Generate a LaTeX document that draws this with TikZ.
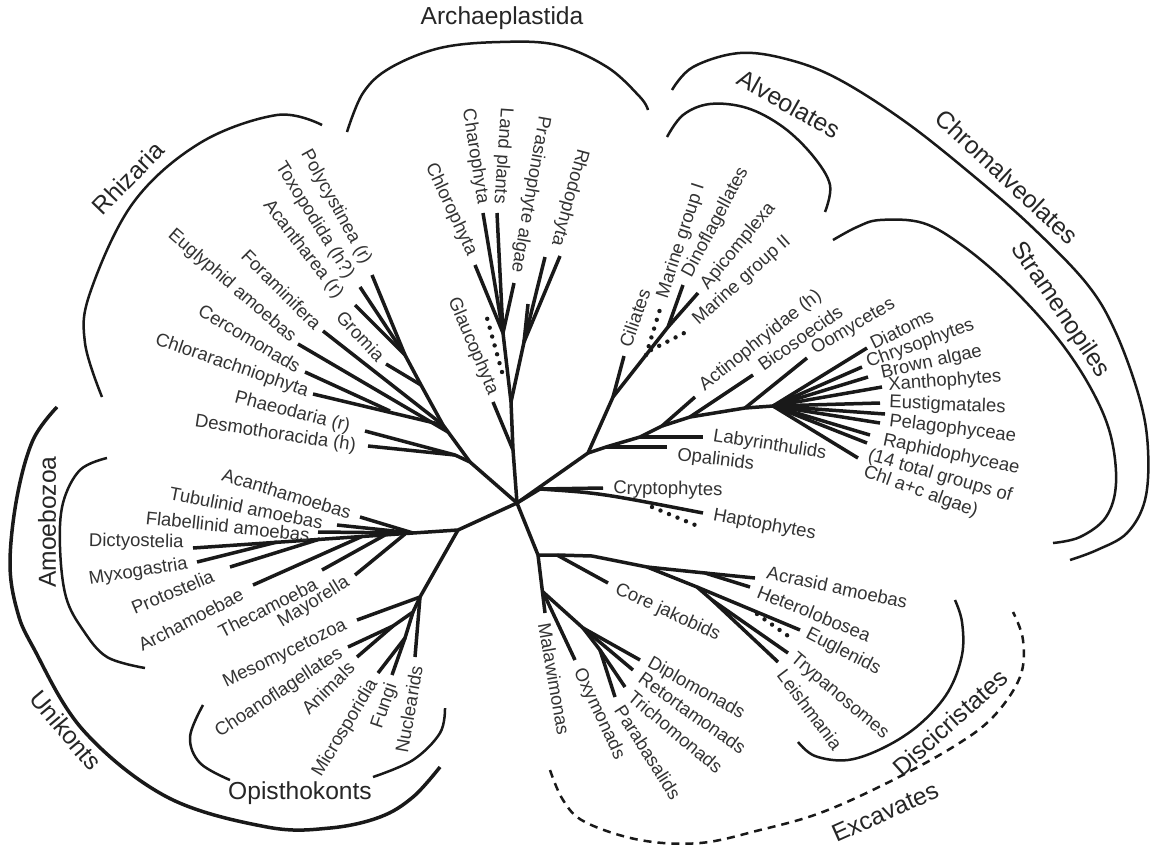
\documentclass[tikz,border=0pt]{standalone}
\usepackage{fontspec}
\setmainfont{Liberation Sans}
\begin{document}
\begin{tikzpicture}[x=0.5pt,y=-0.5pt,
  br/.style={line width=1.75pt, draw=black!90, line join=round},
  dotb/.style={line width=2.2pt, draw=black!90, dash pattern=on 0pt off 4.6pt, line cap=round},
  grp/.style={line width=1.25pt, draw=black!90},
  lab/.style={font=\fontsize{9.25}{11}\selectfont, text=black!80, inner sep=1pt},
  glab/.style={font=\fontsize{12.3}{14}\selectfont, text=black!85, inner sep=1pt}]
\useasboundingbox (0,0) rectangle (1154,851);
\fill[white] (0,0) rectangle (1154,851);

% ---------- centre
\coordinate (c) at (517,503);

% ---------- Archaeplastida
\coordinate (a1) at (513,450);
\coordinate (a2) at (511,402);
\coordinate (a3) at (503,333);
\coordinate (r1) at (524,342);
\coordinate (glauT) at (493,402);
\coordinate (chloT) at (475,265);
\coordinate (charT) at (483,213);
\coordinate (landT) at (497,213);
\coordinate (prasT) at (514,283);
\coordinate (rhoA) at (545,257);
\coordinate (rhoB) at (560,256);
\coordinate (rhoC) at (528,304);
\coordinate (gdA) at (502,372);
\coordinate (gdB) at (487,318);
\draw[br] (c) -- (a1) -- (a2) -- (a3);
\draw[br] (a1) -- (glauT);
\draw[br] (a3) -- (chloT);
\draw[br] (a3) -- (charT);
\draw[br] (a3) -- (landT);
\draw[br] (a3) -- (prasT);
\draw[br] (a2) -- (r1) -- (rhoA);
\draw[br] (r1) -- (rhoB);
\draw[br] (r1) -- (rhoC);
\draw[dotb] (gdA) -- (gdB);
\node[lab, anchor=east, rotate=-67] (lGlau) at (494,396) {Glaucophyta};
\node[lab, anchor=east, rotate=-65] (lChlo) at (473,257) {Chlorophyta};
\node[lab, anchor=east, rotate=-81] (lChar) at (483,206) {Charophyta};
\node[lab, anchor=east, rotate=-94] (lLand) at (499,206) {Land plants};
\node[lab, anchor=east, rotate=-100] (lPras) at (516,275) {Prasinophyte algae};
\node[lab, anchor=east, rotate=-105] (lRhod) at (556,248) {Rhodophyta};

% ---------- Rhizaria
\coordinate (rz0) at (470,462);
\coordinate (dsm) at (455,455);
\coordinate (rz1) at (443,425);
\coordinate (ej) at (448,432);
\coordinate (cc) at (390,411);
\coordinate (grj) at (421,385);
\coordinate (rz3) at (405,355);
\coordinate (polyT) at (372,275);
\coordinate (toxoT) at (360,287);
\coordinate (acanT) at (355,305);
\coordinate (gromT) at (386,364);
\coordinate (foraT) at (323,331);
\coordinate (eglyT) at (298,344);
\coordinate (cercT) at (305,372);
\coordinate (chlaT) at (313,394);
\coordinate (phaeT) at (365,431);
\coordinate (desmT) at (368,446);
\draw[br] (c) -- (rz0) -- (rz1) -- (grj) -- (rz3);
\draw[br] (rz0) -- (dsm) -- (phaeT);
\draw[br] (dsm) -- (desmT);
\draw[br] (rz1) -- (chlaT);
\draw[br] (cc) -- (cercT);
\draw[br] (rz1) -- (foraT);
\draw[br] (ej) -- (eglyT);
\draw[br] (grj) -- (gromT);
\draw[br] (rz3) -- (polyT);
\draw[br] (rz3) -- (toxoT);
\draw[br] (rz3) -- (acanT);
\node[lab, anchor=east, rotate=-61] (lPoly) at (368,265) {Polycystinea (r)};
\node[lab, anchor=east, rotate=-58] (lToxo) at (351,279) {Toxopodida (h?)};
\node[lab, anchor=east, rotate=-52] (lAcan) at (341,298) {Acantharea (r)};
\node[lab, anchor=east, rotate=-47] (lGrom) at (383,360) {Gromia};
\node[lab, anchor=east, rotate=-45] (lFora) at (320,328) {Foraminifera};
\node[lab, anchor=east, rotate=-41] (lEgly) at (295,341) {Euglyphid amoebas};
\node[lab, anchor=east, rotate=-31] (lCerc) at (301,369) {Cercomonads};
\node[lab, anchor=east, rotate=-19] (lChla) at (310,393) {Chlorarachniophyta};
\node[lab, anchor=east, rotate=-14.5] (lPhae) at (352,428) {Phaeodaria (r)};
\node[lab, anchor=east, rotate=-8.7] (lDesm) at (358,447) {Desmothoracida (h)};

% ---------- Alveolates
\coordinate (ch0) at (588,453);
\coordinate (al1) at (613,397);
\coordinate (al3) at (668,327);
\coordinate (ciliT) at (624,356);
\coordinate (dinoT) at (683,285);
\coordinate (apiT) at (698,293);
\coordinate (m1A) at (646,355);
\coordinate (m1B) at (661,306);
\coordinate (m2A) at (651,350);
\coordinate (m2B) at (690,330);
\draw[br] (c) -- (ch0) -- (al1) -- (al3) -- (dinoT);
\draw[br] (al3) -- (apiT);
\draw[br] (al1) -- (ciliT);
\draw[dotb] (m1A) -- (m1B);
\draw[dotb] (m2A) -- (m2B);
\node[lab, anchor=west, rotate=71] (lCili) at (624,349) {Ciliates};
\node[lab, anchor=west, rotate=72] (lMg1) at (662,300) {Marine group I};
\node[lab, anchor=west, rotate=62] (lDino) at (686,278) {Dinoflagellates};
\node[lab, anchor=west, rotate=50.5] (lApic) at (703,289) {Apicomplexa};
\node[lab, anchor=west, rotate=42] (lMg2) at (694,324) {Marine group II};

% ---------- Stramenopiles
\coordinate (s0) at (606,447);
\coordinate (s1) at (640,437);
\coordinate (s2) at (662,426);
\coordinate (s3) at (690,417);
\coordinate (s4) at (745,408);
\coordinate (f0) at (773,406);
\coordinate (opalT) at (667,447);
\coordinate (labyT) at (703,437);
\coordinate (actiT) at (695,397);
\coordinate (bicoT) at (753,375);
\coordinate (oomyT) at (807,358);
\coordinate (fa) at (867,348);
\coordinate (fb) at (862,367);
\coordinate (fc) at (868,377);
\coordinate (fd) at (882,387);
\coordinate (fe) at (880,403);
\coordinate (ff) at (885,414);
\coordinate (fg) at (880,423);
\coordinate (fh) at (870,435);
\coordinate (fi) at (867,443);
\coordinate (fj) at (858,458);
\draw[br] (ch0) -- (s0) -- (s1) -- (s2) -- (s3) -- (s4) -- (f0);
\draw[br] (s0) -- (opalT);
\draw[br] (s1) -- (labyT);
\draw[br] (s2) -- (actiT);
\draw[br] (s3) -- (bicoT);
\draw[br] (s4) -- (oomyT);
\draw[br] (f0) -- (fa);
\draw[br] (f0) -- (fb);
\draw[br] (f0) -- (fc);
\draw[br] (f0) -- (fd);
\draw[br] (f0) -- (fe);
\draw[br] (f0) -- (ff);
\draw[br] (f0) -- (fg);
\draw[br] (f0) -- (fh);
\draw[br] (f0) -- (fi);
\draw[br] (f0) -- (fj);
\node[lab, anchor=west, rotate=-7] (lOpal) at (675,455) {Opalinids};
\node[lab, anchor=west, rotate=-9] (lLaby) at (711,436) {Labyrinthulids};
\node[lab, anchor=west, rotate=38.5] (lActi) at (700,389) {Actinophryidae (h)};
\node[lab, anchor=west, rotate=35.5] (lBico) at (758,368) {Bicosoecids};
\node[lab, anchor=west, rotate=30.5] (lOomy) at (811,352) {Oomycetes};
\node[lab, anchor=west, rotate=26] (lDiat) at (869,345) {Diatoms};
\node[lab, anchor=west, rotate=20] (lChry) at (865,364) {Chrysophytes};
\node[lab, anchor=west, rotate=12.5] (lBrow) at (879,374) {Brown algae};
\node[lab, anchor=west, rotate=4.4] (lXant) at (886,386) {Xanthophytes};
\node[lab, anchor=west, rotate=-2.4] (lEust) at (887,403) {Eustigmatales};
\node[lab, anchor=west, rotate=-7] (lPela) at (887,421) {Pelagophyceae};
\node[lab, anchor=west, rotate=-12] (lRaph) at (881,440) {Raphidophyceae};
\node[lab, anchor=west, rotate=-16] (lTot1) at (866,455) {(14 total groups of};
\node[lab, anchor=west, rotate=-19.7] (lTot2) at (862,471) {Chl a+c algae)};

% ---------- Cryptophytes / Haptophytes
\coordinate (hc) at (540,489);
\coordinate (cryT) at (603,488);
\coordinate (hapT) at (703,513);
\coordinate (hdA) at (652,507);
\coordinate (hdB) at (700,527);
\draw[br] (c) -- (hc) -- (cryT);
\draw[br] (hc) .. controls (600,493) .. (hapT);
\draw[dotb] (hdA) -- (hdB);
\node[lab, anchor=west, rotate=-1] (lCryp) at (611,489) {Cryptophytes};
\node[lab, anchor=west, rotate=-10.5] (lHapt) at (711,515) {Haptophytes};

% ---------- Excavates
\coordinate (ex1) at (538,555);
\coordinate (malT) at (545,613);
\coordinate (jk0) at (557,555);
\coordinate (dcm) at (592,556);
\coordinate (dc1) at (647,567);
\coordinate (het0) at (705,573);
\coordinate (acrT) at (755,578);
\coordinate (hetT) at (750,587);
\coordinate (jakT) at (608,583);
\coordinate (eg0) at (697,587);
\coordinate (eg1) at (712,600);
\coordinate (eugT) at (800,630);
\coordinate (tryT) at (788,653);
\coordinate (leiT) at (778,662);
\coordinate (edA) at (757,614);
\coordinate (edB) at (791,638);
\coordinate (mt0) at (543,592);
\coordinate (mt1) at (583,628);
\coordinate (mt2) at (600,650);
\coordinate (oxyT) at (575,660);
\coordinate (dipT) at (640,660);
\coordinate (retT) at (633,670);
\coordinate (triT) at (625,687);
\coordinate (parT) at (615,697);
\draw[br] (c) -- (ex1) -- (malT);
\draw[br] (ex1) -- (jk0) -- (dcm) -- (dc1) -- (het0) -- (acrT);
\draw[br] (het0) -- (hetT);
\draw[br] (jk0) -- (jakT);
\draw[br] (dc1) -- (eg0) -- (eugT);
\draw[br] (eg0) -- (eg1) -- (tryT);
\draw[br] (eg1) -- (leiT);
\draw[dotb] (edA) -- (edB);
\draw[br] (mt0) -- (oxyT);
\draw[br] (mt0) -- (mt1) -- (dipT);
\draw[br] (mt1) -- (retT);
\draw[br] (mt1) -- (mt2) -- (triT);
\draw[br] (mt2) -- (parT);
\node[lab, anchor=west, rotate=-12] (lAcra) at (765,572) {Acrasid amoebas};
\node[lab, anchor=west, rotate=-22] (lHete) at (756,590) {Heterolobosea};
\node[lab, anchor=west, rotate=-27.5] (lEugl) at (805,632) {Euglenids};
\node[lab, anchor=west, rotate=-40] (lTryp) at (791,656) {Trypanosomes};
\node[lab, anchor=west, rotate=-53] (lLeis) at (780,670) {Leishmania};
\node[lab, anchor=west, rotate=-24.6] (lJako) at (614,588) {Core jakobids};
\node[lab, anchor=west, rotate=-29.5] (lDipl) at (647,661) {Diplomonads};
\node[lab, anchor=west, rotate=-35.5] (lReto) at (639,675) {Retortamonads};
\node[lab, anchor=west, rotate=-40] (lTric) at (629,693) {Trichomonads};
\node[lab, anchor=west, rotate=-57.6] (lPara) at (618,705) {Parabasalids};
\node[lab, anchor=west, rotate=-65] (lOxym) at (577,667) {Oxymonads};
\node[lab, anchor=west, rotate=-80] (lMala) at (544,621) {Malawimonas};

% ---------- Amoebozoa
\coordinate (uk0) at (458,530);
\coordinate (am0) at (413,533);
\coordinate (acaT) at (360,517);
\coordinate (tubT) at (337,525);
\coordinate (flaT) at (318,532);
\coordinate (dicT) at (193,548);
\coordinate (j1) at (277,542);
\coordinate (j2) at (320,539);
\coordinate (j3) at (363,536);
\coordinate (j4) at (385,535);
\coordinate (j5) at (405,534);
\coordinate (myxT) at (197,562);
\coordinate (proT) at (230,567);
\coordinate (arcT) at (253,585);
\coordinate (theT) at (322,570);
\coordinate (mayT) at (355,575);
\draw[br] (c) -- (uk0) -- (am0) -- (dicT);
\draw[br] (am0) -- (acaT);
\draw[br] (am0) -- (tubT);
\draw[br] (am0) -- (flaT);
\draw[br] (j1) -- (myxT);
\draw[br] (j2) -- (proT);
\draw[br] (j3) -- (arcT);
\draw[br] (j4) -- (theT);
\draw[br] (j5) -- (mayT);
\node[lab, anchor=east, rotate=-17] (lAcam) at (353,514) {Acanthamoebas};
\node[lab, anchor=east, rotate=-11] (lTubu) at (325,523) {Tubulinid amoebas};
\node[lab, anchor=east, rotate=-6] (lFlab) at (312,535) {Flabellinid amoebas};
\node[lab, anchor=east, rotate=-1] (lDict) at (186,543) {Dictyostelia};
\node[lab, anchor=east, rotate=8.7] (lMyxo) at (190,564) {Myxogastria};
\node[lab, anchor=east, rotate=22.8] (lProt) at (215,574) {Protostelia};
\node[lab, anchor=east, rotate=27.4] (lArch) at (244,592) {Archamoebae};
\node[lab, anchor=east, rotate=27] (lThec) at (318,582) {Thecamoeba};
\node[lab, anchor=east, rotate=31.6] (lMayo) at (350,580) {Mayorella};

% ---------- Opisthokonts
\coordinate (op0) at (420,597);
\coordinate (op1) at (413,612);
\coordinate (op2) at (393,626);
\coordinate (op3) at (405,638);
\coordinate (mesT) at (357,620);
\coordinate (choT) at (348,647);
\coordinate (aniT) at (357,657);
\coordinate (micT) at (378,673);
\coordinate (funT) at (392,675);
\coordinate (nucT) at (415,657);
\draw[br] (uk0) -- (op0) -- (mesT);
\draw[br] (op0) -- (nucT);
\draw[br] (op0) -- (op1) -- (op2) -- (choT);
\draw[br] (op2) -- (aniT);
\draw[br] (op1) -- (op3) -- (micT);
\draw[br] (op3) -- (funT);
\node[lab, anchor=east, rotate=25.6] (lMeso) at (348,624) {Mesomycetozoa};
\node[lab, anchor=east, rotate=33.4] (lChoa) at (343,651) {Choanoflagellates};
\node[lab, anchor=east, rotate=45] (lAnim) at (353,663) {Animals};
\node[lab, anchor=east, rotate=59] (lMicr) at (375,679) {Microsporidia};
\node[lab, anchor=east, rotate=71] (lFung) at (393,682) {Fungi};
\node[lab, anchor=east, rotate=80] (lNucl) at (417,664) {Nuclearids};

% ---------- group brackets
\draw[grp] plot[smooth, tension=0.6] coordinates {(347,132) (363,93) (390,68) (440,48) (500,42) (557,45) (607,67) (640,97) (648,110)};
\draw[grp] plot[smooth, tension=0.6] coordinates {(322,125) (277,115) (200,143) (133,203) (90,293) (85,343) (102,397)};
\draw[grp] plot[smooth, tension=0.6] coordinates {(667,137) (683,115) (710,104) (747,108) (783,127) (813,156) (830,185) (825,212)};
\draw[grp] plot[smooth, tension=0.6] coordinates {(672,90) (693,67) (740,53) (790,60) (840,80) (907,123) (976,178) (1032,227) (1087,284) (1116,333) (1140,400) (1148,450) (1145,500) (1127,533) (1097,550) (1070,560)};
\draw[grp] plot[smooth, tension=0.6] coordinates {(833,240) (857,227) (880,220) (923,223) (963,246) (1009,285) (1055,335) (1089,385) (1110,433) (1116,483) (1106,517) (1080,537) (1053,543)};
\draw[grp] plot[smooth, tension=0.6] coordinates {(107,458) (80,470) (63,503) (60,547) (66,597) (83,630) (107,657) (145,668)};
\draw[grp, line width=1.75pt] plot[smooth, tension=0.6] coordinates {(57,407) (33,440) (17,497) (10,563) (17,610) (33,647) (83,730) (167,797) (267,827) (330,828) (380,817) (413,797) (440,767)};
\draw[grp] plot[smooth, tension=0.6] coordinates {(203,705) (190,737) (200,763) (230,780)};
\draw[grp] plot[smooth, tension=0.6] coordinates {(373,777) (413,760) (440,733) (445,708)};
\draw[grp] plot[smooth, tension=0.6] coordinates {(798,742) (815,756) (848,760) (885,747) (920,724) (948,692) (962,655) (962,622) (955,600)};
\draw[grp, dash pattern=on 4pt off 3pt] plot[smooth, tension=0.6] coordinates {(550,770) (563,800) (585,822) (640,840) (700,843) (760,830) (820,813) (887,783) (953,747) (993,717) (1020,677) (1023,640) (1013,612)};

\node[glab] (gArch) at (502,18) {Archaeplastida};
\node[glab, rotate=46] (gRhiz) at (128,178) {Rhizaria};
\node[glab, rotate=-29.4] (gAlve) at (789,104) {Alveolates};
\node[glab, rotate=-43] (gChro) at (1007,177) {Chromalveolates};
\node[glab, rotate=-56] (gStra) at (1060,310) {Stramenopiles};
\node[glab, rotate=90] (gAmoe) at (47,522) {Amoebozoa};
\node[glab, rotate=-50] (gUnik) at (66,730) {Unikonts};
\node[glab] (gOpis) at (300,793) {Opisthokonts};
\node[glab, rotate=42] (gDisc) at (950,722) {Discicristates};
\node[glab, rotate=24] (gExca) at (885,812) {Excavates};
\end{tikzpicture}
\end{document}
